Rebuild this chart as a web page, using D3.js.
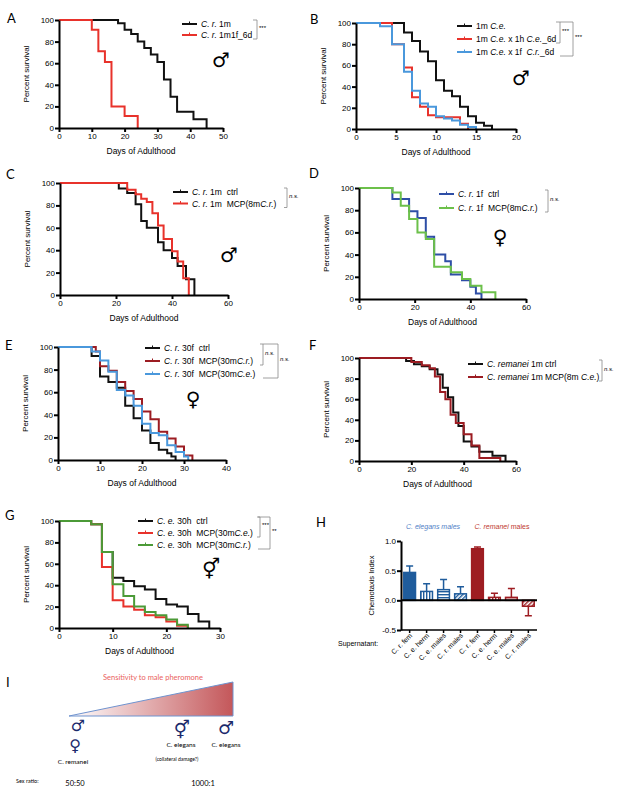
<!DOCTYPE html>
<html>
<head>
<meta charset="utf-8">
<script src="https://cdn.jsdelivr.net/npm/d3@7"></script>
<style>
  body { margin: 0; background: #fff; }
  text { font-family: "Liberation Sans", Arial, sans-serif; fill: #000; white-space: pre; }
  .axis path, .axis line { stroke: #000; stroke-width: 2; }
  .axis text { font-size: 8px; font-family: "Liberation Sans", Arial, sans-serif; }
  .letter { font-family: "Lato", "Open Sans", sans-serif; font-size: 13px; }
  .gill { font-family: "Lato", "Open Sans", sans-serif; }
</style>
</head>
<body>
<svg id="fig" width="617" height="789"></svg>
<script>
const svg = d3.select('#fig');

// ---- data: survival curves, [day, percent surviving] ----
const survivalTicks = [0, 20, 40, 60, 80, 100];

const aCr1m = [[0,100],[18,97],[20,91],[22,87],[24,80],[26,74],[28,68],[30,61],[32,45],[34,29],[36,15],[41,8],[45,0]];
const aCr1m1f = [[0,100],[10,91],[12,71],[14,61],[16,20],[20,11],[24,0]];

const bCe = [[0,100],[6,91],[7,83],[8,73],[9,64],[10,46],[11,36],[12,31],[13,21],[14,12],[15,6],[16,3],[17,0]];
const bCeHerm = [[0,100],[4.5,80],[6,58],[7,30],[8,21],[9,13],[10,11],[13,5],[14,0]];
const bCeFem = [[0,100],[3,97],[4.5,80],[6,54],[7,36],[8,24],[9,21],[10,12],[11,10],[12,8],[13,4],[14,2],[15,0]];

const cCtrl = [[0,100],[21,95],[24,91],[27,81],[29,66],[31,60],[35,47],[37,40],[40,33],[42,26],[45,14],[48,0]];
const cMcp = [[0,100],[24,94],[27,90],[29,86],[31,83],[33,73],[35,62],[37,50],[40,39],[42,30],[44,15],[46,0]];

const dCtrl = [[0,100],[12,90],[18,79],[21,73],[24,56],[27,40],[31,34],[33,22],[37,17],[40,11],[42,5],[44,0]];
const dMcp = [[0,100],[12,96],[15,84],[18,72],[21,60],[24,54],[27,29],[33,24],[37,18],[40,12],[44,6],[49,0]];

const eCtrl = [[0,100],[8,92],[10,74],[12,69],[14,64],[16,48],[18,37],[20,26],[22,15],[24,9],[26,6],[27,3],[28,0]];
const eMcpCr = [[0,100],[9,96],[10,83],[12,79],[14,69],[16,61],[18,54],[20,43],[22,36],[24,25],[26,19],[28,12],[30,4],[32,0]];
const eMcpCe = [[0,100],[8,96],[10,88],[12,78],[14,62],[16,57],[18,48],[20,32],[22,24],[24,22],[26,13],[28,7],[30,3],[31,0]];

const fCtrl = [[0,100],[18,97],[21,94],[24,92],[27,89],[30,84],[32,71],[34,62],[36,47],[38,34],[40,19],[43,14],[46,9],[51,5],[56,0]];
const fMcp = [[0,100],[20,96],[24,93],[27,90],[29,82],[31,67],[33,60],[35,45],[37,37],[40,26],[43,15],[46,3],[54,0]];

const gCtrl = [[0,100],[6,97],[8,71],[10,47],[12,44],[14,39],[16,36],[18,27],[20,22],[22,20],[24,13],[26,6],[28,0]];
const gMcpCe = [[0,100],[6,97],[8,57],[10,26],[12,20],[14,17],[16,12],[18,10],[20,6],[22,2],[24,0]];
const gMcpCr = [[0,100],[6,97],[8,71],[10,41],[12,30],[14,20],[16,15],[18,12],[20,8],[22,3],[24,0]];

// ---- data: chemotaxis (panel H) ----
const chemoLabels = ['C. r. fem', 'C. e. herm', 'C. e. males', 'C. r. males', 'C. r. fem', 'C. e. herm', 'C. e. males', 'C. r. males'];
const chemoMean = [0.47, 0.15, 0.18, 0.11, 0.87, 0.05, 0.05, -0.10];
const chemoErr = [0.11, 0.13, 0.17, 0.12, 0.03, 0.07, 0.15, 0.16];
const chemoFill = ['solid', 'vert', 'horiz', 'diag', 'solid', 'vert', 'horiz', 'diag'];
const chemoTicks = [-0.5, 0, 0.5, 1.0];

const black = '#111', red = '#e8322b', darkRed = '#9c1c22', lightBlue = '#4a98dc', navyBlue = '#2e4ea6';
const lightGreen = '#6cc04a', darkGreen = '#4b9a37';
const hBlue = '#1f5c9c', hRed = '#9e1d22';

const panels = [
  { letter: 'A', lx: 7, ly: 23, left: 59, right: 223, top: 20, bottom: 128, xMax: 50, xTicks: [0,10,20,30,40,50],
    series: [{ data: aCr1m, color: black, label: '*C. r.* 1m' }, { data: aCr1m1f, color: red, label: '*C. r.* 1m1f_6d' }],
    legend: { x: 182, y: 24, dy: 11 },
    brackets: [{ x: 257, r: [0, 1], stub: 4, text: '***' }],
    symbol: { ch: '\u2642', x: 221, y: 60 } },
  { letter: 'B', lx: 310, ly: 24, left: 356, right: 516, top: 23, bottom: 129, xMax: 20, xTicks: [0,5,10,15,20],
    series: [{ data: bCe, color: black, label: '1m *C.e.*' }, { data: bCeHerm, color: red, label: '1m *C.e.* x 1h *C.e.*_6d' },
             { data: bCeFem, color: lightBlue, label: '1m *C.e.* x 1f  *C.r.*_6d' }],
    legend: { x: 457, y: 26, dy: 13 },
    brackets: [{ x: 560, r: [0, 1], stub: 4, text: '***' }, { x: 573, r: [0, 2], stub: 13, text: '***' }],
    symbol: { ch: '\u2642', x: 521, y: 78 } },
  { letter: 'C', lx: 6, ly: 179, left: 60, right: 228, top: 183, bottom: 295, xMax: 60, xTicks: [0,20,40,60],
    series: [{ data: cCtrl, color: black, label: '*C. r.* 1m  ctrl' }, { data: cMcp, color: red, label: '*C. r.* 1m  MCP(8m*C.r.*)' }],
    legend: { x: 173, y: 192, dy: 11.5 },
    brackets: [{ x: 287, r: [0, 1], stub: 3, text: 'n.s.' }],
    symbol: { ch: '\u2642', x: 229, y: 255 } },
  { letter: 'D', lx: 309, ly: 178, left: 359, right: 526, top: 188, bottom: 299, xMax: 60, xTicks: [0,20,40,60],
    series: [{ data: dCtrl, color: navyBlue, label: '*C. r.* 1f  ctrl' }, { data: dMcp, color: lightGreen, label: '*C. r.* 1f  MCP(8m*C.r.*)' }],
    legend: { x: 439, y: 194, dy: 14 },
    brackets: [{ x: 548, r: [0, 1], stub: 3, text: 'n.s.' }],
    symbol: { ch: '\u2640', x: 500, y: 237 } },
  { letter: 'E', lx: 5, ly: 350, left: 58, right: 226, top: 347, bottom: 460, xMax: 40, xTicks: [0,10,20,30,40],
    series: [{ data: eCtrl, color: black, label: '*C. r.* 30f  ctrl' }, { data: eMcpCr, color: darkRed, label: '*C. r.* 30f  MCP(30m*C.r.*)' },
             { data: eMcpCe, color: lightBlue, label: '*C. r.* 30f  MCP(30m*C.e.*)' }],
    legend: { x: 145, y: 348, dy: 13 },
    brackets: [{ x: 263, r: [0, 1], stub: 3, text: 'n.s.' }, { x: 278, r: [0, 2], stub: 15, text: 'n.s.' }],
    symbol: { ch: '\u2640', x: 193, y: 399 } },
  { letter: 'F', lx: 309, ly: 350, left: 359, right: 516, top: 358, bottom: 461, xMax: 60, xTicks: [0,20,40,60],
    series: [{ data: fCtrl, color: black, label: '*C. remanei* 1m ctrl' }, { data: fMcp, color: darkRed, label: '*C. remanei* 1m MCP(8m *C.e.*)' }],
    legend: { x: 468, y: 364, dy: 13 },
    brackets: [{ x: 602, r: [0, 1], stub: 3, text: 'n.s.' }],
    symbol: null },
  { letter: 'G', lx: 5, ly: 520, left: 59, right: 220, top: 521, bottom: 628, xMax: 30, xTicks: [0,10,20,30],
    series: [{ data: gCtrl, color: black, label: '*C. e.* 30h  ctrl' }, { data: gMcpCe, color: red, label: '*C. e.* 30h  MCP(30m*C.e.*)' },
             { data: gMcpCr, color: darkGreen, label: '*C. e.* 30h  MCP(30m*C.r.*)' }],
    legend: { x: 138, y: 521, dy: 12 },
    brackets: [{ x: 260, r: [0, 1], stub: 3, text: '***' }, { x: 270, r: [0, 2], stub: 12, text: '**' }],
    symbol: { ch: '\u26A5', x: 211, y: 569 } }
];

// text with *italic* parts
function richText(sel, str) {
  str.split('*').forEach((part, i) => {
    if (!part) return;
    sel.append('tspan').attr('font-style', i % 2 ? 'italic' : 'normal').text(part);
  });
}

function survivalPanel(p) {
  const g = svg.append('g');
  const x = d3.scaleLinear().domain([0, p.xMax]).range([p.left, p.right]);
  const y = d3.scaleLinear().domain([0, 100]).range([p.bottom, p.top]);

  g.append('text').attr('class', 'letter').attr('x', p.lx).attr('y', p.ly).text(p.letter);

  const line = d3.line().x(d => x(d[0])).y(d => y(d[1])).curve(d3.curveStepAfter);
  p.series.forEach(s => {
    g.append('path').datum(s.data)
      .attr('d', line)
      .attr('fill', 'none')
      .attr('stroke', s.color)
      .attr('stroke-width', 2);
  });

  g.append('g').attr('class', 'axis')
    .attr('transform', `translate(0,${p.bottom})`)
    .call(d3.axisBottom(x).tickValues(p.xTicks).tickSize(4).tickSizeOuter(0).tickPadding(1));
  g.append('g').attr('class', 'axis')
    .attr('transform', `translate(${p.left},0)`)
    .call(d3.axisLeft(y).tickValues(survivalTicks).tickSize(4).tickSizeOuter(0).tickPadding(1));

  g.append('text')
    .attr('transform', `translate(${p.left - 30},${(p.top + p.bottom) / 2}) rotate(-90)`)
    .attr('text-anchor', 'middle')
    .attr('font-size', 8)
    .text('Percent survival');
  g.append('text')
    .attr('x', (p.left + p.right) / 2)
    .attr('y', p.bottom + 26)
    .attr('text-anchor', 'middle')
    .attr('font-size', 8.5)
    .text('Days of Adulthood');

  // legend
  p.series.forEach((s, i) => {
    const ly = p.legend.y + i * p.legend.dy;
    g.append('line')
      .attr('x1', p.legend.x).attr('x2', p.legend.x + 15)
      .attr('y1', ly).attr('y2', ly)
      .attr('stroke', s.color).attr('stroke-width', 2);
    g.append('line')
      .attr('x1', p.legend.x + 7.5).attr('x2', p.legend.x + 7.5)
      .attr('y1', ly - 2.5).attr('y2', ly)
      .attr('stroke', s.color).attr('stroke-width', 1);
    richText(g.append('text')
      .attr('x', p.legend.x + 19)
      .attr('y', ly + 3)
      .attr('font-size', 8.5), s.label);
  });

  // significance brackets
  p.brackets.forEach(b => {
    const y1 = p.legend.y + b.r[0] * p.legend.dy - 4;
    const y2 = p.legend.y + b.r[1] * p.legend.dy + 4;
    g.append('path')
      .attr('d', `M${b.x - b.stub},${y1}H${b.x}V${y2}H${b.x - b.stub}`)
      .attr('fill', 'none').attr('stroke', '#888').attr('stroke-width', 0.8);
    g.append('text')
      .attr('x', b.x + 2).attr('y', (y1 + y2) / 2)
      .attr('font-size', 6)
      .attr('font-style', b.text === 'n.s.' ? 'italic' : 'normal')
      .text(b.text);
  });

  if (p.symbol) {
    g.append('text')
      .attr('x', p.symbol.x).attr('y', p.symbol.y)
      .attr('text-anchor', 'middle').attr('dominant-baseline', 'central')
      .style('font-family', '"DejaVu Sans", sans-serif')
      .attr('font-size', 20)
      .text(p.symbol.ch);
  }
}

panels.forEach(survivalPanel);

// ---- panel H ----
const defs = svg.append('defs');
function stripes(id, color, angle) {
  const pat = defs.append('pattern')
    .attr('id', id).attr('patternUnits', 'userSpaceOnUse')
    .attr('width', 3).attr('height', 3)
    .attr('patternTransform', `rotate(${angle})`);
  pat.append('rect').attr('width', 3).attr('height', 3).attr('fill', '#fff');
  pat.append('rect').attr('x', 0).attr('width', 1.4).attr('height', 3).attr('fill', color);
}
[['b', hBlue], ['r', hRed]].forEach(([k, c]) => {
  stripes(`vert-${k}`, c, 0);
  stripes(`horiz-${k}`, c, 90);
  stripes(`diag-${k}`, c, 45);
});

const hg = svg.append('g');
hg.append('text').attr('class', 'letter').attr('x', 316).attr('y', 527).text('H');

const hx = d3.scaleBand().domain(d3.range(chemoMean.length)).range([401, 537]).paddingInner(0.22).paddingOuter(0.12);
const hy = d3.scaleLinear().domain([-0.5, 1]).range([630, 541]);
const hColor = i => (i < 4 ? hBlue : hRed);
const hFill = i => chemoFill[i] === 'solid' ? hColor(i) : `url(#${chemoFill[i]}-${i < 4 ? 'b' : 'r'})`;

hg.append('text').attr('x', 433).attr('y', 529).attr('text-anchor', 'middle')
  .attr('font-size', 7).attr('font-style', 'italic').style('fill', '#4f80c6').text('C. elegans males');
hg.append('text').attr('x', 502).attr('y', 529).attr('text-anchor', 'middle')
  .attr('font-size', 7).style('fill', '#c0392f')
  .call(t => { t.append('tspan').attr('font-style', 'italic').text('C. remanei'); t.append('tspan').text(' males'); });

// error bars
hg.selectAll('.err').data(chemoMean).join('path')
  .attr('class', 'err')
  .attr('d', (d, i) => {
    const cx = hx(i) + hx.bandwidth() / 2;
    const end = hy(d + Math.sign(d) * chemoErr[i]);
    return `M${cx},${hy(d)}V${end}M${cx - 3.5},${end}H${cx + 3.5}`;
  })
  .attr('fill', 'none')
  .attr('stroke', (d, i) => hColor(i))
  .attr('stroke-width', 1.5);

hg.selectAll('.bar').data(chemoMean).join('rect')
  .attr('class', 'bar')
  .attr('x', (d, i) => hx(i) + 0.75)
  .attr('width', hx.bandwidth() - 1.5)
  .attr('y', d => hy(Math.max(0, d)))
  .attr('height', d => Math.abs(hy(d) - hy(0)))
  .attr('fill', (d, i) => hFill(i))
  .attr('stroke', (d, i) => hColor(i))
  .attr('stroke-width', 1.5);

hg.append('g').attr('class', 'axis')
  .attr('transform', 'translate(401,0)')
  .call(d3.axisLeft(hy).tickValues(chemoTicks).tickFormat(d => d.toFixed(1)).tickSize(4).tickSizeOuter(0).tickPadding(1))
  .selectAll('text').attr('font-size', 7);
hg.append('line')
  .attr('x1', 401).attr('x2', 537).attr('y1', hy(0)).attr('y2', hy(0))
  .attr('stroke', '#000').attr('stroke-width', 2);
hg.append('line')
  .attr('x1', 401).attr('x2', 537).attr('y1', hy(-0.5)).attr('y2', hy(-0.5))
  .attr('stroke', '#000').attr('stroke-width', 1.5);
hg.selectAll('.xtick').data(chemoLabels).join('line')
  .attr('x1', (d, i) => hx(i) + hx.bandwidth() / 2).attr('x2', (d, i) => hx(i) + hx.bandwidth() / 2)
  .attr('y1', hy(-0.5)).attr('y2', hy(-0.5) + 3)
  .attr('stroke', '#000').attr('stroke-width', 1.5);
hg.selectAll('.xlab').data(chemoLabels).join('text')
  .attr('class', 'xlab')
  .attr('transform', (d, i) => `translate(${hx(i) + hx.bandwidth() / 2 + 3},${hy(-0.5) + 6}) rotate(-45)`)
  .attr('text-anchor', 'end')
  .attr('font-size', 7)
  .text(d => d);
hg.append('text')
  .attr('transform', `translate(374,${(hy(1) + hy(-0.5)) / 2}) rotate(-90)`)
  .attr('text-anchor', 'middle').attr('font-size', 7.5)
  .text('Chemotaxis Index');
hg.append('text').attr('x', 338).attr('y', 646).attr('font-size', 7).text('Supernatant:');

// ---- panel I ----
const ig = svg.append('g');
ig.append('text').attr('class', 'letter').attr('x', 6).attr('y', 687).text('I');
const grad = defs.append('linearGradient').attr('id', 'sens').attr('x1', '0%').attr('x2', '100%');
grad.append('stop').attr('offset', '0%').attr('stop-color', '#ffffff');
grad.append('stop').attr('offset', '100%').attr('stop-color', '#c4575a');
ig.append('path')
  .attr('d', 'M69,716L233,716L233,682Z')
  .attr('fill', 'url(#sens)')
  .attr('stroke', '#6f93cf').attr('stroke-width', 1);
ig.append('text').attr('class', 'gill').attr('x', 153).attr('y', 680).attr('text-anchor', 'middle')
  .attr('font-size', 7.5).style('fill', '#ea5f60').text('Sensitivity to male pheromone');

const navy = '#1c2a6c';
const sym = (ch, x, y, size) => ig.append('text').attr('x', x).attr('y', y)
  .attr('text-anchor', 'middle').attr('dominant-baseline', 'central')
  .style('font-family', '"DejaVu Sans", sans-serif').attr('font-size', size)
  .style('fill', navy).text(ch);
sym('\u2642', 78, 725, 16);
sym('\u2640', 75, 745, 16);
sym('\u26A5', 182, 729, 18);
sym('\u2642', 226, 727, 18);

const itext = (t, x, y, size) => ig.append('text').attr('class', 'gill').attr('x', x).attr('y', y)
  .attr('text-anchor', 'middle').attr('font-size', size).text(t);
itext('C. remanei', 73, 764, 6.5);
itext('C. elegans', 181, 747, 6.5);
itext('(collateral damage?)', 177, 761, 5);
itext('C. elegans', 226, 747, 6.5);
ig.append('text').attr('class', 'gill').attr('x', 16).attr('y', 783).attr('font-size', 5.5).text('Sex ratio:');
itext('50:50', 75, 786, 7.5);
itext('1000:1', 203, 786, 7.5);
</script>
</body>
</html>
